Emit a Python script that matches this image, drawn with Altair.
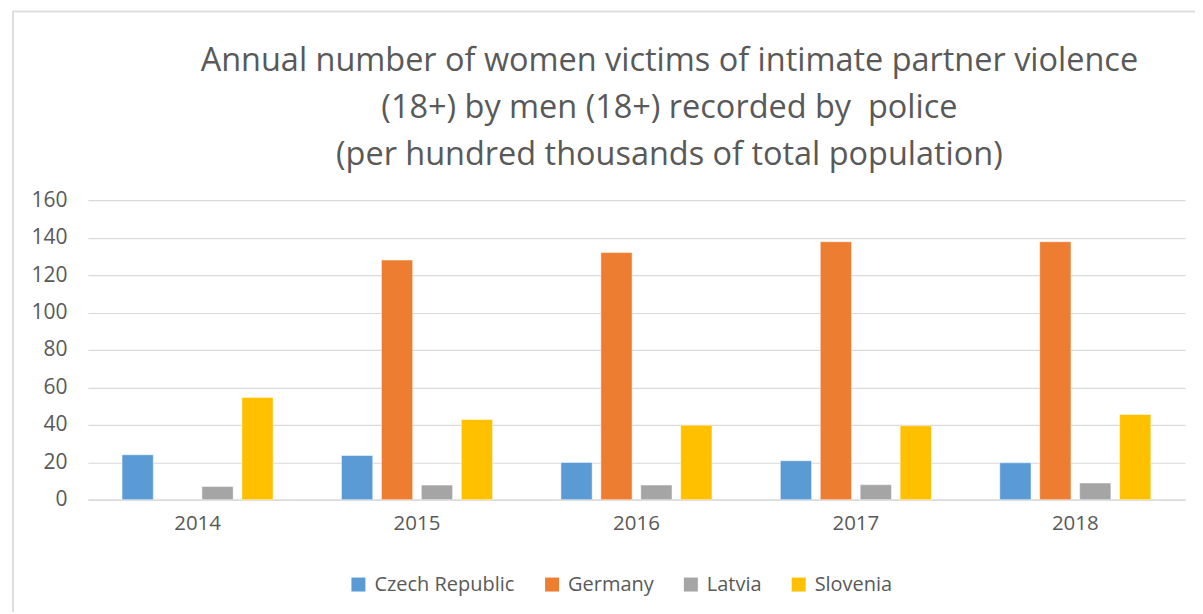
import altair as alt
import pandas as pd

years = ["2014", "2015", "2016", "2017", "2018"]
countries = ["Czech Republic", "Germany", "Latvia", "Slovenia"]
czech = [24.0, 23.6, 19.9, 20.8, 19.7]
germany = [None, 128.0, 132.0, 137.8, 137.8]
latvia = [7.1, 7.8, 7.8, 8.0, 8.9]
slovenia = [54.6, 42.8, 39.8, 39.5, 45.5]
colors = ["#5B9BD5", "#ED7D31", "#A5A5A5", "#FFC000"]
title_lines = [
    "Annual number of women victims of intimate partner violence",
    "(18+) by men (18+) recorded by \u00a0police",
    " (per hundred thousands of total population)",
]

rows = []
for name, series in zip(countries, [czech, germany, latvia, slovenia]):
    for y, v in zip(years, series):
        if v is not None:
            rows.append({"year": y, "country": name, "value": v})
df = pd.DataFrame(rows)

FONT = "Open Sans"
TXT = "#595959"

bars = alt.Chart(df).mark_bar(stroke="white", strokeWidth=0.8, strokeOpacity=0.6).encode(
    x=alt.X("year:N", sort=years, title=None,
            scale=alt.Scale(paddingInner=0, paddingOuter=0),
            axis=alt.Axis(labelAngle=0, labelFont=FONT, labelFontSize=20.5, labelColor=TXT,
                          labelPadding=14, ticks=False, domainColor="#D9D9D9", domainWidth=1.2)),
    xOffset=alt.XOffset("country:N", sort=countries,
                        scale=alt.Scale(paddingInner=0.2175, paddingOuter=0.856)),
    y=alt.Y("value:Q", title=None,
            scale=alt.Scale(domain=[0, 160]),
            axis=alt.Axis(values=list(range(0, 161, 20)), labelFont=FONT, labelFontSize=21,
                          labelColor=TXT, labelPadding=21, ticks=False, domain=False,
                          gridColor="#D9D9D9", gridWidth=1.2)),
    color=alt.Color("country:N", sort=countries,
                    scale=alt.Scale(domain=countries, range=colors),
                    legend=alt.Legend(orient="none", direction="horizontal", title=None,
                                      legendX=261, legendY=375, symbolType="square",
                                      symbolSize=196, symbolStrokeWidth=0, labelFont=FONT,
                                      labelFontSize=20, labelColor=TXT, labelOffset=6,
                                      columnPadding=27, padding=0)),
)

# light chart-area frame (left and top edges, as in the reference)
frame_df = pd.DataFrame({"k": [0]})
frame_left = alt.Chart(frame_df).mark_rule(color="#DEDEDE", strokeWidth=2).encode(
    x=alt.value(-75), y=alt.value(-189), y2=alt.value(430))
frame_top = alt.Chart(frame_df).mark_rule(color="#DEDEDE", strokeWidth=2).encode(
    x=alt.value(-76), x2=alt.value(1120), y=alt.value(-189))

chart = alt.layer(bars, frame_left, frame_top).properties(
    width=1099,
    height=300,
    title=alt.TitleParams(text=title_lines, font=FONT, fontSize=32.5, fontWeight="normal",
                          color=TXT, lineHeight=47, anchor="middle", dx=33, offset=-161.5),
    autosize=alt.AutoSizeParams(type="none"),
    padding={"left": 80, "top": 192, "right": 10, "bottom": 112},
).configure_view(stroke=None)

chart.save("out.html", embed_options={"renderer": "svg", "actions": False})
